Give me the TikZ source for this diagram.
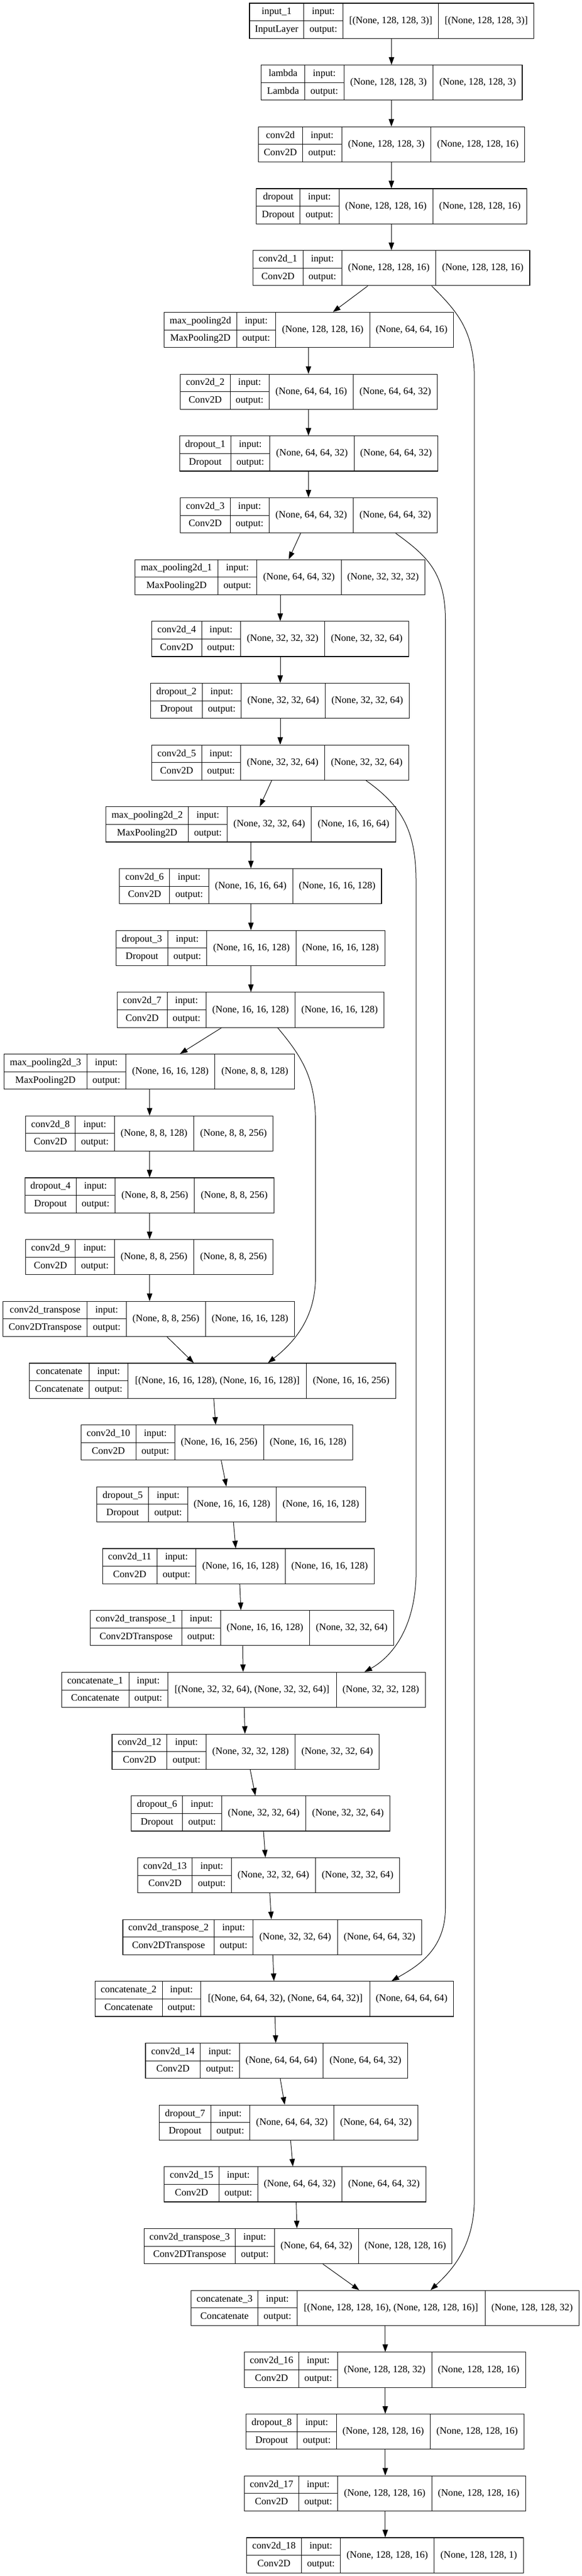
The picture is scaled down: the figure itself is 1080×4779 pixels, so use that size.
\documentclass[tikz,border=0pt]{standalone}
\usepackage{fontspec}
\setmainfont{Liberation Serif}
\usetikzlibrary{arrows.meta,fit}
\tikzset{
  box/.style={draw=black, line width=0.85pt, inner sep=0pt},
  div/.style={draw=black, line width=0.7pt},
  lbl/.style={font=\fontsize{13.6pt}{15pt}\selectfont, inner sep=0pt, text height=9.6pt, text depth=2.8pt, anchor=center},
  arr/.style={draw=black, line width=0.75pt, -{Triangle[length=10.5pt,width=7.5pt]}},
}
\newcommand\rec[6]{%
  \def\tmpparse##1,##2,##3,##4,##5\relax{\def\xL{##1}\def\xA{##2}\def\xB{##3}\def\xC{##4}\def\xR{##5}}%
  \tmpparse#2\relax
  \pgfmathsetmacro\yT{6+114.68*#1}%
  \pgfmathsetmacro\yB{\yT+65.2}%
  \pgfmathsetmacro\yM{\yT+32.6}%
  \pgfmathsetmacro\yU{\yT+16.3}%
  \pgfmathsetmacro\yD{\yT+48.9}%
  \node[box, fit={(\xL,\yT) (\xR,\yB)}] (n#1) {};
  \draw[div] (\xA,\yT) -- (\xA,\yB) (\xB,\yT) -- (\xB,\yB) (\xC,\yT) -- (\xC,\yB) (\xL,\yM) -- (\xB,\yM);
  \node[lbl] (n#1name) at ({(\xL+\xA)/2},\yU) {#3};
  \node[lbl] (n#1cls) at ({(\xL+\xA)/2},\yD) {#4};
  \node[lbl] (n#1inl) at ({(\xA+\xB)/2},\yU) {input:};
  \node[lbl] (n#1outl) at ({(\xA+\xB)/2},\yD) {output:};
  \node[lbl] (n#1ins) at ({(\xB+\xC)/2},\yM) {#5};
  \node[lbl] (n#1outs) at ({(\xC+\xR)/2},\yM) {#6};
}
\newcommand\edge[4]{\draw[arr] (#2,0 |- n#1.south) -- (#4,0 |- n#3.north);}
\begin{document}
\begin{tikzpicture}[x=0.75pt,y=-0.75pt]
\fill[white] (0,0) rectangle (1080,4779);
\useasboundingbox (0,0) rectangle (1080,4779);
\rec{0}{463,563.8,636.4,813.8,990.8}{input\_1}{InputLayer}{[(None, 128, 128, 3)]}{[(None, 128, 128, 3)]}
\rec{1}{484.9,565.5,638.1,803.6,969}{lambda}{Lambda}{(None, 128, 128, 3)}{(None, 128, 128, 3)}
\rec{2}{479.4,561.3,634.2,799.6,973.9}{conv2d}{Conv2D}{(None, 128, 128, 3)}{(None, 128, 128, 16)}
\rec{3}{475.9,556.5,629,803.3,977.7}{dropout}{Dropout}{(None, 128, 128, 16)}{(None, 128, 128, 16)}
\rec{4}{469.7,562,634.4,808.6,983}{conv2d\_1}{Conv2D}{(None, 128, 128, 16)}{(None, 128, 128, 16)}
\rec{5}{304.4,439.4,511.7,686,841.7}{max\_pooling2d}{MaxPooling2D}{(None, 128, 128, 16)}{(None, 64, 64, 16)}
\rec{6}{334.7,427,499.3,655.7,811.3}{conv2d\_2}{Conv2D}{(None, 64, 64, 16)}{(None, 64, 64, 32)}
\rec{7}{333.4,428.4,500.7,657.1,812.7}{dropout\_1}{Dropout}{(None, 64, 64, 32)}{(None, 64, 64, 32)}
\rec{8}{334.7,427,499.3,655.7,811.3}{conv2d\_3}{Conv2D}{(None, 64, 64, 32)}{(None, 64, 64, 32)}
\rec{9}{250.7,404.3,476.6,633,788.6}{max\_pooling2d\_1}{MaxPooling2D}{(None, 64, 64, 32)}{(None, 32, 32, 32)}
\rec{10}{281.7,374,446.3,602.7,758.3}{conv2d\_4}{Conv2D}{(None, 32, 32, 32)}{(None, 32, 32, 64)}
\rec{11}{279.6,375.4,447.7,603.3,759.7}{dropout\_2}{Dropout}{(None, 32, 32, 64)}{(None, 32, 32, 64)}
\rec{12}{281.7,374,446.3,602.7,758.3}{conv2d\_5}{Conv2D}{(None, 32, 32, 64)}{(None, 32, 32, 64)}
\rec{13}{196.3,349.9,421.5,577.9,734.2}{max\_pooling2d\_2}{MaxPooling2D}{(None, 32, 32, 64)}{(None, 16, 16, 64)}
\rec{14}{221.8,314.8,387.1,543.4,708}{conv2d\_6}{Conv2D}{(None, 16, 16, 64)}{(None, 16, 16, 128)}
\rec{15}{215.6,311.3,383.6,549.6,714.2}{dropout\_3}{Dropout}{(None, 16, 16, 128)}{(None, 16, 16, 128)}
\rec{16}{217.6,310,382.3,547.6,712.9}{conv2d\_7}{Conv2D}{(None, 16, 16, 128)}{(None, 16, 16, 128)}
\rec{17}{7.6,161.2,233.5,398.8,546.9}{max\_pooling2d\_3}{MaxPooling2D}{(None, 16, 16, 128)}{(None, 8, 8, 128)}
\rec{18}{47.5,139.8,212.1,359.5,506.9}{conv2d\_8}{Conv2D}{(None, 8, 8, 128)}{(None, 8, 8, 256)}
\rec{19}{46.1,141.2,213.5,360.9,508.3}{dropout\_4}{Dropout}{(None, 8, 8, 256)}{(None, 8, 8, 256)}
\rec{20}{47.5,139.8,212.1,359.5,506.9}{conv2d\_9}{Conv2D}{(None, 8, 8, 256)}{(None, 8, 8, 256)}
\rec{21}{5.5,161.9,234.2,381.6,546.2}{conv2d\_transpose}{Conv2DTranspose}{(None, 8, 8, 256)}{(None, 16, 16, 128)}
\rec{22}{54.4,165.3,237.6,568.9,734.2}{concatenate}{Concatenate}{[(None, 16, 16, 128), (None, 16, 16, 128)]}{(None, 16, 16, 256)}
\rec{23}{150.1,252.1,324.4,489,654.3}{conv2d\_10}{Conv2D}{(None, 16, 16, 256)}{(None, 16, 16, 128)}
\rec{24}{179.8,275.5,348.5,512.4,678.4}{dropout\_5}{Dropout}{(None, 16, 16, 128)}{(None, 16, 16, 128)}
\rec{25}{190.1,291.3,363.7,529,694.3}{conv2d\_11}{Conv2D}{(None, 16, 16, 128)}{(None, 16, 16, 128)}
\rec{26}{167.4,337.5,409.1,574.4,730.8}{conv2d\_transpose\_1}{Conv2DTranspose}{(None, 16, 16, 128)}{(None, 32, 32, 64)}
\rec{27}{114.3,239,311.3,624,789.3}{concatenate\_1}{Concatenate}{[(None, 32, 32, 64), (None, 32, 32, 64)]}{(None, 32, 32, 128)}
\rec{28}{208,309.9,382.3,547.6,703.9}{conv2d\_12}{Conv2D}{(None, 32, 32, 128)}{(None, 32, 32, 64)}
\rec{29}{243.8,338.9,411.2,567.5,723.9}{dropout\_6}{Dropout}{(None, 32, 32, 64)}{(None, 32, 32, 64)}
\rec{30}{255.5,356.8,429.1,585.4,741.8}{conv2d\_13}{Conv2D}{(None, 32, 32, 64)}{(None, 32, 32, 64)}
\rec{31}{228,397.4,469.7,626.1,782.4}{conv2d\_transpose\_2}{Conv2DTranspose}{(None, 32, 32, 64)}{(None, 64, 64, 32)}
\rec{32}{176.3,301,372.6,686,841.7}{concatenate\_2}{Concatenate}{[(None, 64, 64, 32), (None, 64, 64, 32)]}{(None, 64, 64, 64)}
\rec{33}{270,371.9,444.2,599.9,756.3}{conv2d\_14}{Conv2D}{(None, 64, 64, 64)}{(None, 64, 64, 32)}
\rec{34}{295.5,391.2,463.5,619.9,775.5}{dropout\_7}{Dropout}{(None, 64, 64, 32)}{(None, 64, 64, 32)}
\rec{35}{304.4,406.4,478,634.3,790.7}{conv2d\_15}{Conv2D}{(None, 64, 64, 32)}{(None, 64, 64, 32)}
\rec{36}{267.2,436.7,509,665.3,838.9}{conv2d\_transpose\_3}{Conv2DTranspose}{(None, 64, 64, 32)}{(None, 128, 128, 16)}
\rec{37}{354.7,478.7,551,900.2,1074.4}{concatenate\_3}{Concatenate}{[(None, 128, 128, 16), (None, 128, 128, 16)]}{(None, 128, 128, 32)}
\rec{38}{453.2,554.4,626.8,801,975.3}{conv2d\_16}{Conv2D}{(None, 128, 128, 32)}{(None, 128, 128, 16)}
\rec{39}{456.6,551.7,624,798.3,972.5}{dropout\_8}{Dropout}{(None, 128, 128, 16)}{(None, 128, 128, 16)}
\rec{40}{453.2,554.4,626.8,801,975.3}{conv2d\_17}{Conv2D}{(None, 128, 128, 16)}{(None, 128, 128, 16)}
\rec{41}{457.3,559.3,631.6,805.8,971.1}{conv2d\_18}{Conv2D}{(None, 128, 128, 16)}{(None, 128, 128, 1)}
% main chain
\edge{0}{726.5}{1}{726.5}
\edge{1}{726.3}{2}{726.3}
\edge{2}{726.3}{3}{726.3}
\edge{3}{726.3}{4}{726.3}
\edge{4}{682.5}{5}{617.8}
\edge{5}{572.4}{6}{572.4}
\edge{6}{572.4}{7}{572.4}
\edge{7}{572.4}{8}{572.4}
\edge{8}{557.9}{9}{535.8}
\edge{9}{520}{10}{520}
\edge{10}{520}{11}{520}
\edge{11}{520}{12}{520}
\edge{12}{504.2}{13}{482.1}
\edge{13}{465.6}{14}{465.6}
\edge{14}{465.6}{15}{465.6}
\edge{15}{465.6}{16}{465.6}
\edge{16}{411.2}{17}{334}
\edge{17}{277.6}{18}{277.6}
\edge{18}{277.6}{19}{277.6}
\edge{19}{277.6}{20}{277.6}
\edge{20}{277.6}{21}{277.6}
\edge{21}{309.9}{22}{359.5}
\edge{22}{396.7}{23}{400.2}
\edge{23}{410.5}{24}{420.1}
\edge{24}{433.2}{25}{437.4}
\edge{25}{444.9}{26}{447}
\edge{26}{450.4}{27}{451.1}
\edge{27}{453.2}{28}{454.6}
\edge{28}{464.2}{29}{473.9}
\edge{29}{489}{30}{492.5}
\edge{30}{500.7}{31}{503.5}
\edge{31}{506.2}{32}{508.3}
\edge{32}{510.4}{33}{511.7}
\edge{33}{520}{34}{528.3}
\edge{34}{539.3}{35}{543.4}
\edge{35}{549.6}{36}{551}
\edge{36}{599.2}{37}{666.7}
\edge{37}{714.9}{38}{714.9}
\edge{38}{714.9}{39}{714.9}
\edge{39}{714.9}{40}{714.9}
\edge{40}{714.9}{41}{714.9}
% skip connections
\draw[arr] (801,0 |- n4.south) .. controls (845,575) and (880.2,610) .. (880.2,700)
  -- (880.2,4080) .. controls (880.2,4170) and (835,4215) .. (799,0 |- n37.north);
\draw[arr] (734.2,0 |- n8.south) .. controls (790,1030) and (826.5,1060) .. (826.5,1150)
  -- (826.5,3540) .. controls (826.5,3620) and (770,3650) .. (726.6,0 |- n32.north);
\draw[arr] (679.1,0 |- n12.south) .. controls (745,1495) and (773,1540) .. (772,1640)
  -- (772,2900) .. controls (776,3020) and (725,3075) .. (676.4,0 |- n27.north);
\draw[arr] (515.2,0 |- n16.south) .. controls (560,1960) and (585.4,2000) .. (585.4,2080)
  -- (585.4,2370) .. controls (585.4,2450) and (540,2495) .. (497.3,0 |- n22.north);
\end{tikzpicture}
\end{document}
